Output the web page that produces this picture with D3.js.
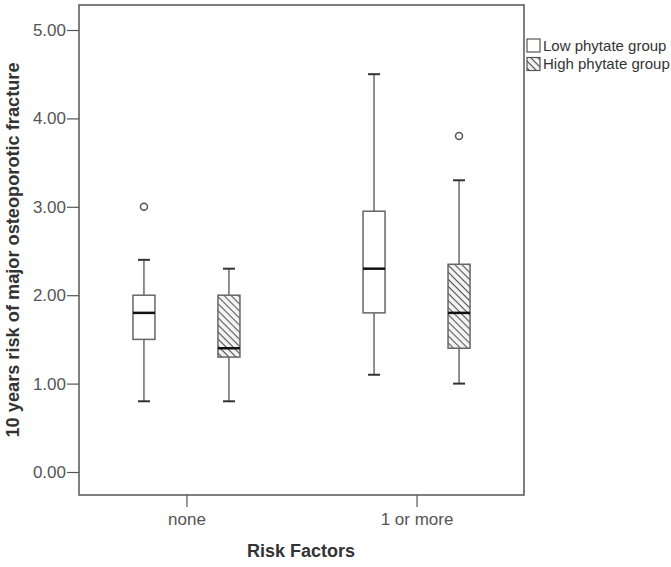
<!DOCTYPE html>
<html>
<head>
<meta charset="utf-8">
<script src="https://cdn.jsdelivr.net/npm/d3@7"></script>
<style>
  html, body { margin: 0; padding: 0; background: #fff; }
  svg { display: block; font-family: "Liberation Sans", Arial, sans-serif; }
</style>
</head>
<body>
<svg id="chart" width="671" height="567"></svg>
<script>
// ---- data ----
const categories = ["none", "1 or more"];
const series = ["Low phytate group", "High phytate group"];
// per series, values for each category
const whiskerLow  = { "Low phytate group": [0.80, 1.10], "High phytate group": [0.80, 1.00] };
const quartile1   = { "Low phytate group": [1.50, 1.80], "High phytate group": [1.30, 1.40] };
const medians     = { "Low phytate group": [1.80, 2.30], "High phytate group": [1.40, 1.80] };
const quartile3   = { "Low phytate group": [2.00, 2.95], "High phytate group": [2.00, 2.35] };
const whiskerHigh = { "Low phytate group": [2.40, 4.50], "High phytate group": [2.30, 3.30] };
const outliers    = { "Low phytate group": [[3.00], []], "High phytate group": [[], [3.80]] };
const yTicks = [0, 1, 2, 3, 4, 5];

// ---- layout ----
const svg = d3.select("#chart");
const frame = { left: 79, top: 5, right: 524, bottom: 495 };

const y = d3.scaleLinear().domain([0, 5]).range([472, 30]);
const x = d3.scalePoint().domain(categories).range([frame.left, frame.right]).padding(0.467);
const sub = d3.scalePoint().domain(series).range([-42.5, 42.5]);
const boxW = 22, capW = 12;

// hatch pattern
const defs = svg.append("defs");
const pat = defs.append("pattern")
  .attr("id", "hatch").attr("patternUnits", "userSpaceOnUse")
  .attr("width", 5).attr("height", 5)
  .attr("patternTransform", "rotate(45)");
pat.append("rect").attr("width", 5).attr("height", 5).attr("fill", "#f4f4f4");
pat.append("line").attr("x1", 0).attr("y1", 0).attr("x2", 5).attr("y2", 0)
  .attr("stroke", "#555").attr("stroke-width", 2.2);

const fillFor = s => s === series[0] ? "#fff" : "url(#hatch)";

// frame
svg.append("rect")
  .attr("x", frame.left).attr("y", frame.top)
  .attr("width", frame.right - frame.left).attr("height", frame.bottom - frame.top)
  .attr("fill", "none").attr("stroke", "#555").attr("stroke-width", 1.5);

// y axis
const yAxis = svg.append("g").attr("transform", `translate(${frame.left},0)`)
  .call(d3.axisLeft(y).tickValues(yTicks).tickFormat(d3.format(".2f")).tickSize(12).tickPadding(1));
yAxis.select(".domain").remove();
yAxis.selectAll(".tick line").attr("stroke", "#555").attr("stroke-width", 1.2);
yAxis.selectAll(".tick text").attr("fill", "#555").style("font-size", "17px")
  .style("font-family", "'Liberation Sans', Arial, sans-serif");

// x axis
const xAxis = svg.append("g").attr("transform", `translate(0,${frame.bottom})`)
  .call(d3.axisBottom(x).tickSize(12).tickPadding(6));
xAxis.select(".domain").remove();
xAxis.selectAll(".tick line").attr("stroke", "#555").attr("stroke-width", 1.2);
xAxis.selectAll(".tick text").attr("fill", "#555").style("font-size", "17px")
  .style("font-family", "'Liberation Sans', Arial, sans-serif");

// boxes
series.forEach(s => {
  categories.forEach((c, i) => {
    const cx = x(c) + sub(s);
    const g = svg.append("g");
    // whiskers
    g.append("line").attr("x1", cx).attr("x2", cx)
      .attr("y1", y(whiskerHigh[s][i])).attr("y2", y(quartile3[s][i]))
      .attr("stroke", "#444").attr("stroke-width", 1.2);
    g.append("line").attr("x1", cx).attr("x2", cx)
      .attr("y1", y(quartile1[s][i])).attr("y2", y(whiskerLow[s][i]))
      .attr("stroke", "#444").attr("stroke-width", 1.2);
    [whiskerHigh[s][i], whiskerLow[s][i]].forEach(v => {
      g.append("line").attr("x1", cx - capW / 2).attr("x2", cx + capW / 2)
        .attr("y1", y(v)).attr("y2", y(v))
        .attr("stroke", "#333").attr("stroke-width", 2);
    });
    // box
    g.append("rect")
      .attr("x", cx - boxW / 2).attr("width", boxW)
      .attr("y", y(quartile3[s][i])).attr("height", y(quartile1[s][i]) - y(quartile3[s][i]))
      .attr("fill", fillFor(s)).attr("stroke", "#666").attr("stroke-width", 1.5);
    // median
    g.append("line").attr("x1", cx - boxW / 2).attr("x2", cx + boxW / 2)
      .attr("y1", y(medians[s][i])).attr("y2", y(medians[s][i]))
      .attr("stroke", "#111").attr("stroke-width", 2.5);
    // outliers
    outliers[s][i].forEach(v => {
      g.append("circle").attr("cx", cx).attr("cy", y(v)).attr("r", 3.5)
        .attr("fill", "#fff").attr("stroke", "#555").attr("stroke-width", 1.5);
    });
  });
});

// axis titles
svg.append("text")
  .attr("transform", `translate(19,250) rotate(-90)`)
  .attr("text-anchor", "middle")
  .attr("fill", "#333").style("font-size", "18.2px").style("font-weight", "bold")
  .text("10 years risk of major osteoporotic fracture");
svg.append("text")
  .attr("x", 301).attr("y", 557)
  .attr("text-anchor", "middle")
  .attr("fill", "#333").style("font-size", "18px").style("font-weight", "bold")
  .text("Risk Factors");

// legend
const leg = svg.append("g");
series.forEach((s, i) => {
  const yy = 39 + i * 18.5;
  leg.append("rect").attr("x", 527).attr("y", yy).attr("width", 13).attr("height", 13)
    .attr("fill", fillFor(s)).attr("stroke", "#555").attr("stroke-width", 1.2);
  leg.append("text").attr("x", 543).attr("y", yy + 11.5)
    .attr("fill", "#333").style("font-size", "15px").text(s);
});
</script>
</body>
</html>
